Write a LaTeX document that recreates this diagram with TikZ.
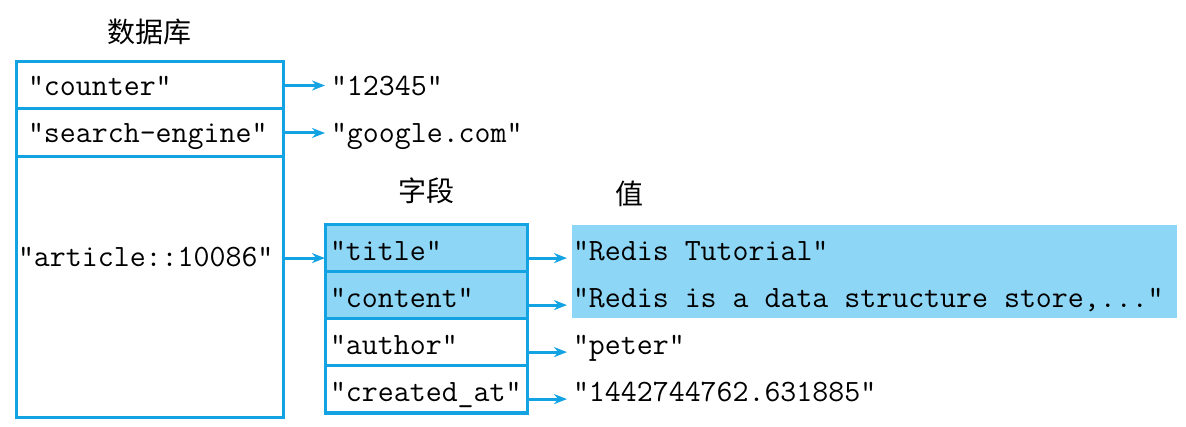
\documentclass[tikz,border=0pt]{standalone}
\usepackage{fontspec}
\newfontfamily\cjk{Noto Sans CJK SC}
\usepackage{tikz}
\usetikzlibrary{positioning}
\usetikzlibrary{arrows.meta}
\definecolor{redisblue}{RGB}{20,163,226}
\definecolor{redisfill}{RGB}{142,214,245}
\newcommand{\codefont}{\ttfamily\fontsize{31}{36}\selectfont}
\newcommand{\cjkfont}{\cjk\fontsize{28}{32}\selectfont}

\tikzset{
	cellwidth/.style={execute at begin node={\hbox to #1\bgroup}, execute at end node={\hss\egroup}},
	cell/.style={draw=redisblue, line width=3pt, outer sep=0pt, inner ysep=0pt, font=\codefont},
	keyrow/.style={cell, cellwidth=243pt, inner xsep=12pt, minimum height=47pt, text height=23pt, text depth=3pt},
	fieldrow/.style={cell, cellwidth=192pt, inner xsep=5pt, minimum height=47pt, text height=25pt, text depth=1.5pt},
	value/.style={inner xsep=6pt, inner ysep=0pt, outer sep=0pt, font=\codefont, text height=25pt, text depth=1.5pt},
	link/.style={redisblue, line width=3pt, -{Stealth[length=13pt, width=10pt]}},
	heading/.style={font=\cjkfont, inner sep=0pt},
}

\begin{document}
\begin{tikzpicture}[x=1pt, y=-1pt]
				\useasboundingbox (0,0) rectangle (1186,427);
				
				% keys of the database
				\node[keyrow] (db1) at (149.5,85.5) {"counter"};
				\node[keyrow, minimum height=48pt, below=0pt of db1] (db2) {"search-engine"};
				\node[cell, below=0pt of db2, cellwidth=263pt, inner xsep=2pt, text height=110pt, text depth=150pt] (db3) {"article::10086"};
				
				% fields of the hash
				\node[fieldrow, fill=redisfill] (f1) at (426,248.5) {"title"};
				\node[fieldrow, fill=redisfill, below=0pt of f1] (f2) {"content"};
				\node[fieldrow, below=0pt of f2] (f3) {"author"};
				\node[fieldrow, below=0pt of f3] (f4) {"created\_at"};
				
				\fill[redisfill] (572,225) rectangle (1177,318);
				
				% values
				\node[value, right=42pt of db1, text height=23pt, text depth=3pt] (v1) {"12345"};
				\node[value, right=42pt of db2, text height=23pt, text depth=3pt] (v2) {"google.com"};
				\node[value, right=40pt of f1] (t1) {"Redis Tutorial"};
				\node[value, right=40pt of f2] (t2) {"Redis is a data structure store,..."};
				\node[value, right=40pt of f3] (t3) {"peter"};
				\node[value, right=40pt of f4] (t4) {"1442744762.631885"};
				
				\node[heading, above=17pt of db1] (dbhead) {数据库};
				\node[heading, above=21pt of f1] (fieldhead) {字段};
				\node[heading, anchor=base] (valhead) at (629,204.5) {值};
				
				\draw[link] (db1) -- (v1);
				\draw[link] (db2) -- (v2);
				\draw[link] (f1.mid west -| db3.east) -- (f1.mid west);
				\draw[link] (f1.mid east) -- (t1.mid west);
				\draw[link] (f2.mid east) -- (t2.mid west);
				\draw[link] (f3.mid east) -- (t3.mid west);
				\draw[link] (f4.mid east) -- (t4.mid west);
			\end{tikzpicture}
\end{document}
